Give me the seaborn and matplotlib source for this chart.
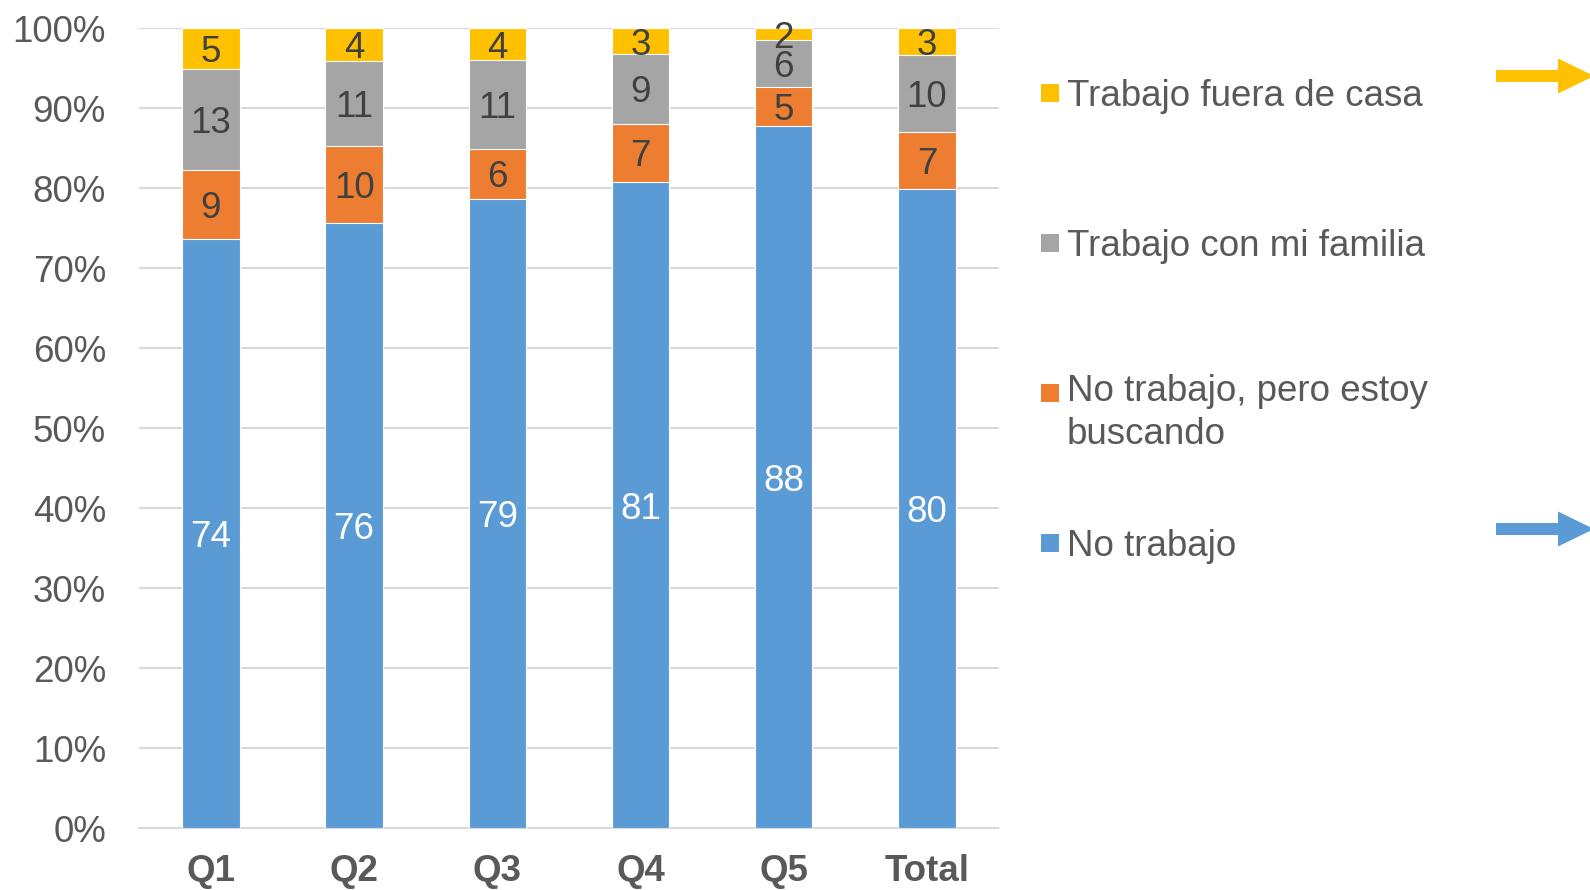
import matplotlib
matplotlib.use("Agg")
import matplotlib.pyplot as plt
import seaborn as sns
import numpy as np
from matplotlib.patches import Rectangle, Polygon
from matplotlib.ticker import FuncFormatter
from matplotlib.transforms import offset_copy

# ---- data (percent of each group) ----
categories = ["Q1", "Q2", "Q3", "Q4", "Q5", "Total"]
no_trabajo = [73.7, 75.7, 78.7, 80.8, 87.8, 79.9]
no_trabajo_buscando = [8.6, 9.6, 6.2, 7.3, 4.9, 7.2]
trabajo_familia = [12.6, 10.6, 11.1, 8.7, 5.8, 9.6]
trabajo_fuera = [5.1, 4.1, 4.0, 3.2, 1.5, 3.3]

series_names = ["No trabajo", "No trabajo, pero estoy\nbuscando",
                "Trabajo con mi familia", "Trabajo fuera de casa"]
series_values = [no_trabajo, no_trabajo_buscando, trabajo_familia, trabajo_fuera]
colors = ["#5B9BD5", "#ED7D31", "#A5A5A5", "#FFC000"]
label_colors = ["white", "#404040", "#404040", "#404040"]
y_ticks = list(range(0, 101, 10))

sns.set_style("white")
plt.rcParams["font.family"] = ["Liberation Sans", "DejaVu Sans"]

FS = 26.5
W, H = 1590, 890
fig = plt.figure(figsize=(W / 100, H / 100), dpi=100)
ax = fig.add_axes([139.3 / W, 1 - 828.3 / H, (998.5 - 139.3) / W, 800 / H])

vals = np.array(series_values, dtype=float)
cum = np.cumsum(vals, axis=0)

# draw stacked bars: the full stack first, then smaller cumulative stacks over it
for i in reversed(range(len(series_values))):
    sns.barplot(x=categories, y=cum[i], color=colors[i], saturation=1,
                width=0.4, errorbar=None, edgecolor="white", linewidth=0.8,
                ax=ax, zorder=2 + (len(series_values) - i))

# data labels
lab_tr = offset_copy(ax.transData, fig=fig, x=0, y=-4, units="dots")
for i in range(len(series_values)):
    bottoms = cum[i] - vals[i]
    for j, cat in enumerate(categories):
        v = vals[i][j]
        ax.text(j, bottoms[j] + v / 2, f"{int(v + 0.5)}", ha="center", va="center",
                fontsize=FS, color=label_colors[i], zorder=20, transform=lab_tr)

ax.set_ylim(0, 100)
ax.set_xlim(-0.5, len(categories) - 0.5)
ax.set_yticks(y_ticks)
ax.yaxis.set_major_formatter(FuncFormatter(lambda v, p: f"{v:.0f}%"))
ax.set_axisbelow(True)
ax.yaxis.grid(True, color="#D9D9D9", linewidth=1.5)
ax.xaxis.grid(False)
for s in ["top", "right", "left"]:
    ax.spines[s].set_visible(False)
ax.spines["bottom"].set_color("#D9D9D9")
ax.spines["bottom"].set_linewidth(1.5)
ax.tick_params(axis="both", length=0)
ax.tick_params(axis="y", labelsize=FS, labelcolor="#595959", pad=24)
ax.tick_params(axis="x", labelsize=FS, labelcolor="#595959", pad=18.5)
for t in ax.get_xticklabels():
    t.set_fontweight("bold")
ax.set_xlabel("")
ax.set_ylabel("")


def fx(x):
    return x / W


def fy(y):
    return 1 - y / H


# legend (top to bottom, reverse of stacking order)
legend_rows = [(3, 93), (2, 243), (1, 393), (0, 543)]
for idx, yc in legend_rows:
    sq = 18
    fig.patches.append(Rectangle((fx(1041), fy(yc + sq / 2)), sq / W, sq / H,
                                 transform=fig.transFigure, facecolor=colors[idx],
                                 edgecolor="none"))
    txt = series_names[idx]
    if "\n" in txt:
        fig.text(fx(1067), fy(yc - 19), txt, ha="left", va="top", fontsize=FS,
                 color="#595959", linespacing=1.3)
    else:
        fig.text(fx(1067), fy(yc + 4), txt, ha="left", va="center", fontsize=FS,
                 color="#595959")

# decorative arrows at the right edge
for col, yc in [("#FFC000", 76), ("#5B9BD5", 529)]:
    pts = [(1496, yc - 6), (1558, yc - 6), (1558, yc - 17.5), (1594, yc),
           (1558, yc + 17.5), (1558, yc + 6), (1496, yc + 6)]
    fig.patches.append(Polygon([(fx(x), fy(y)) for x, y in pts], closed=True,
                               transform=fig.transFigure, facecolor=col,
                               edgecolor="none"))

fig.savefig("out.png", dpi=100)
